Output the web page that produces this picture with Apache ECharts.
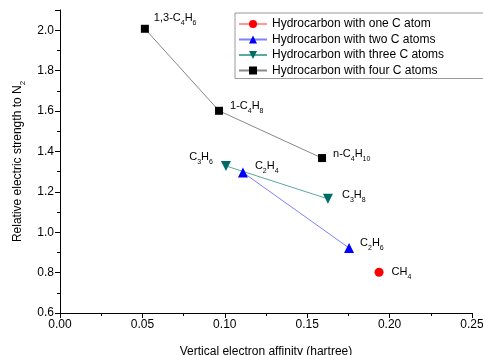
<!DOCTYPE html>
<html><head><meta charset="utf-8">
<script src="https://cdn.jsdelivr.net/npm/echarts@6/dist/echarts.min.js"></script>
<style>html,body{margin:0;padding:0;background:#fff}#c{width:483px;height:355px}</style>
</head><body><div id="c"></div>
<script>
const seriesNames = ['Hydrocarbon with one C atom','Hydrocarbon with two C atoms','Hydrocarbon with three C atoms','Hydrocarbon with four C atoms'];
const oneC = [[0.1936, 0.802]];
const oneCLabels = ['{a|CH}{s|4}'];
const twoC = [[0.111, 1.296],[0.1754, 0.922]];
const twoCLabels = ['{a|C}{s|2}{a|H}{s|4}','{a|C}{s|2}{a|H}{s|6}'];
const threeC = [[0.1007, 1.328],[0.1626, 1.165]];
const threeCLabels = ['{a|C}{s|3}{a|H}{s|6}','{a|C}{s|3}{a|H}{s|8}'];
const fourC = [[0.0515, 2.007],[0.0965, 1.601],[0.159, 1.367]];
const fourCLabels = ['{a|1,3-C}{s|4}{a|H}{s|6}','{a|1-C}{s|4}{a|H}{s|8}','{a|n-C}{s|4}{a|H}{s|10}'];
const xTicks = [0, 0.05, 0.10, 0.15, 0.20, 0.25];
const yTicks = [0.6, 0.8, 1.0, 1.2, 1.4, 1.6, 1.8, 2.0];

const FONT = 'Liberation Sans, Arial, sans-serif';
const rich = {
  a: {fontSize: 11, fontFamily: FONT, color: '#000', verticalAlign: 'bottom', lineHeight: 14},
  s: {fontSize: 7, fontFamily: FONT, color: '#000', verticalAlign: 'bottom', lineHeight: 10, padding:[0,0,-3,0]}
};
function mk(data, labels, offsets) {
  return data.map((d, i) => ({
    value: d,
    label: {show: true, formatter: labels[i], rich: rich, position: offsets[i][2], offset: [offsets[i][0], offsets[i][1]]}
  }));
}
const chart = echarts.init(document.getElementById('c'), null, {renderer: 'canvas'});
chart.setOption({
  animation: false,
  backgroundColor: '#fff',
  textStyle: {fontFamily: FONT},
  grid: {left: 60, right: 11, top: 10, bottom: 42, containLabel: false, outerBoundsMode: 'none'},
  legend: {
    orient: 'vertical', left: 235, top: 13,
    itemWidth: 28, itemHeight: 10, itemGap: 3.5,
    borderColor: '#999', borderWidth: 1, padding: [5, 60, 2, 3],
    textStyle: {fontSize: 12, fontFamily: FONT, color: '#000'},
    data: seriesNames
  },
  xAxis: {
    type: 'value', min: 0, max: 0.25, interval: 0.05,
    name: 'Vertical electron affinity (hartree)', nameLocation: 'middle', nameGap: 33,
    nameTextStyle: {fontSize: 12, color: '#000', fontFamily: FONT},
    axisLine: {lineStyle: {color: '#000', width: 1}},
    axisTick: {show: true, inside: false, length: 5, lineStyle: {color: '#000'}},
    minorTick: {show: true, splitNumber: 2, length: 3, lineStyle: {color: '#000'}},
    splitLine: {show: false},
    axisLabel: {fontSize: 12, color: '#000', fontFamily: FONT, formatter: v => v.toFixed(2), margin: 6}
  },
  yAxis: {
    type: 'value', min: 0.6, max: 2.1, interval: 0.2,
    name: '{a|Relative electric strength to N}{s|2}', nameLocation: 'middle', nameGap: 36, nameRotate: 90,
    nameTextStyle: {rich: {
      a: {fontSize: 12, fontFamily: FONT, color: '#000', verticalAlign: 'bottom', lineHeight: 15},
      s: {fontSize: 8, fontFamily: FONT, color: '#000', verticalAlign: 'bottom', lineHeight: 11, padding:[0,0,-3,0]}
    }},
    axisLine: {show: true, lineStyle: {color: '#000', width: 1}},
    axisTick: {show: true, inside: false, length: 5, lineStyle: {color: '#000'}},
    minorTick: {show: true, splitNumber: 2, length: 3, lineStyle: {color: '#000'}},
    splitLine: {show: false},
    axisLabel: {fontSize: 12, color: '#000', fontFamily: FONT, formatter: v => (v > 2.05 ? '' : v.toFixed(1)), margin: 6}
  },
  series: [
    {name: seriesNames[0], type: 'line', symbol: 'circle', symbolSize: 9,
     itemStyle: {color: '#ff0000'}, lineStyle: {color: '#ff9999', width: 1},
     data: mk(oneC, oneCLabels, [[3,-2,'right']])},
    {name: seriesNames[1], type: 'line', symbol: 'triangle', symbolSize: 10,
     itemStyle: {color: '#0000ff'}, lineStyle: {color: '#8080ff', width: 1},
     data: mk(twoC, twoCLabels, [[2,-8,'right'],[1,-6,'right']])},
    {name: seriesNames[2], type: 'line', symbol: 'triangle', symbolRotate: 180, symbolSize: 10,
     itemStyle: {color: '#006b66'}, lineStyle: {color: '#5aa8a3', width: 1},
     data: mk(threeC, threeCLabels, [[-3,-10,'left'],[4,-5,'right']])},
    {name: seriesNames[3], type: 'line', symbol: 'rect', symbolSize: 8,
     itemStyle: {color: '#000'}, lineStyle: {color: '#888', width: 1},
     data: mk(fourC, fourCLabels, [[0,-12,'right'],[2,-6,'right'],[2,-6,'right']])}
  ]
});
</script></body></html>
